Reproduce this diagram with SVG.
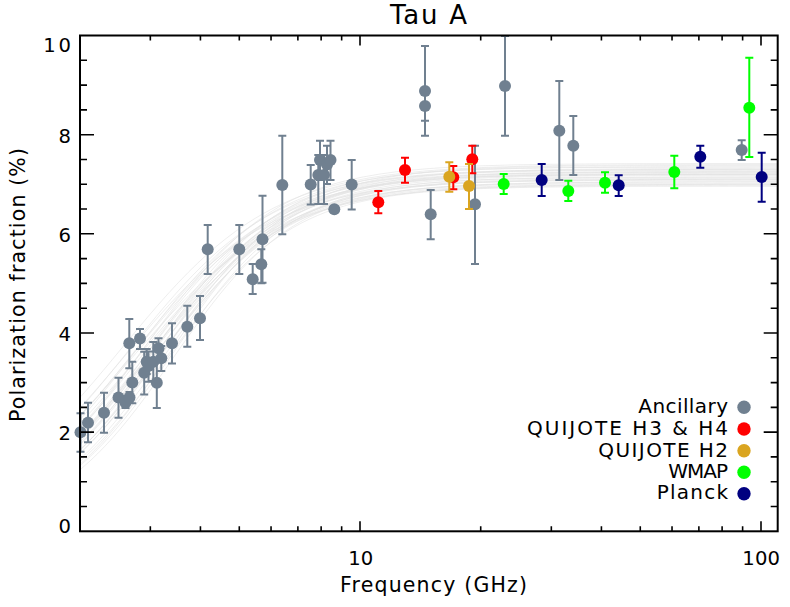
<svg xmlns="http://www.w3.org/2000/svg" width="790" height="607" viewBox="0 0 790 607">
<style>
text{font-family:"DejaVu Sans","Liberation Sans",sans-serif;fill:#000}
.tl{font-size:19.6px;text-anchor:end}
.xl{font-size:19.6px;text-anchor:middle}
.lg{font-size:20px;text-anchor:end}
.eb{fill:none;stroke-width:2}
.anc{stroke:#708090;fill:#708090}
.red{stroke:#ff0000;fill:#ff0000}
.gold{stroke:#daa520;fill:#daa520}
.grn{stroke:#00ff00;fill:#00ff00}
.nav{stroke:#000080;fill:#000080}
.dot circle{stroke:none}
</style>
<defs>
<clipPath id="plotclip"><rect x="80" y="35.5" width="697.7" height="495.8"/></clipPath>
<path id="sig" fill="none" stroke="#e2e2e2" stroke-width="0.6" vector-effect="non-scaling-stroke" d="M-3 0.04743C-2.8333 0.05496 -2.6667 0.06418 -2.5 0.07586C-2.3333 0.08754 -2.1667 0.10170 -2 0.11920C-1.8333 0.13670 -1.6667 0.15757 -1.5 0.18243C-1.3333 0.20729 -1.1667 0.23617 -1 0.26894C-0.8333 0.30171 -0.6667 0.33837 -0.5 0.37754C-0.3333 0.41671 -0.1667 0.45833 0 0.5C0.1667 0.54167 0.3333 0.58329 0.5 0.62246C0.6667 0.66163 0.8333 0.69829 1 0.73106C1.1667 0.76383 1.3333 0.79271 1.5 0.81757C1.6667 0.84243 1.8333 0.86330 2 0.88080C2.1667 0.89830 2.3333 0.91246 2.5 0.92414C2.6667 0.93582 2.8333 0.94504 3 0.95257C3.3333 0.96763 3.6667 0.97612 4 0.98201C4.3333 0.98790 4.6667 0.99109 5 0.99331C5.3333 0.99553 5.6667 0.99671 6 0.99753C6.6667 0.99918 7.3333 0.99944 8 0.99966L12 1"/>
</defs>
<rect width="790" height="607" fill="#fff"/>
<g id="model-curves" clip-path="url(#plotclip)">
<use href="#sig" transform="matrix(75.72 0 0 -366.89 122.02 531.3)"/>
<use href="#sig" transform="matrix(74.11 0 0 -352.02 125.40 531.3)"/>
<use href="#sig" transform="matrix(72.56 0 0 -361.93 128.72 531.3)"/>
<use href="#sig" transform="matrix(75.72 0 0 -347.06 131.98 531.3)"/>
<use href="#sig" transform="matrix(71.08 0 0 -356.98 133.26 531.3)"/>
<use href="#sig" transform="matrix(69.66 0 0 -364.41 137.06 531.3)"/>
<use href="#sig" transform="matrix(72.56 0 0 -349.54 138.31 531.3)"/>
<use href="#sig" transform="matrix(68.29 0 0 -359.46 141.39 531.3)"/>
<use href="#sig" transform="matrix(71.08 0 0 -354.50 143.22 531.3)"/>
<use href="#sig" transform="matrix(66.98 0 0 -367.88 144.42 531.3)"/>
<use href="#sig" transform="matrix(69.66 0 0 -346.07 146.21 531.3)"/>
<use href="#sig" transform="matrix(68.29 0 0 -356.98 147.40 531.3)"/>
<use href="#sig" transform="matrix(65.72 0 0 -361.93 149.16 531.3)"/>
<use href="#sig" transform="matrix(69.66 0 0 -352.02 150.33 531.3)"/>
<use href="#sig" transform="matrix(66.98 0 0 -357.97 151.48 531.3)"/>
<use href="#sig" transform="matrix(68.29 0 0 -349.54 153.20 531.3)"/>
<use href="#sig" transform="matrix(64.50 0 0 -364.41 154.91 531.3)"/>
<use href="#sig" transform="matrix(66.98 0 0 -355.98 156.04 531.3)"/>
<use href="#sig" transform="matrix(65.72 0 0 -347.06 157.71 531.3)"/>
<use href="#sig" transform="matrix(63.33 0 0 -360.94 158.82 531.3)"/>
<use href="#sig" transform="matrix(66.98 0 0 -353.01 160.47 531.3)"/>
<use href="#sig" transform="matrix(64.50 0 0 -358.96 162.65 531.3)"/>
<use href="#sig" transform="matrix(62.20 0 0 -351.03 164.26 531.3)"/>
<use href="#sig" transform="matrix(65.72 0 0 -365.90 165.86 531.3)"/>
<use href="#sig" transform="matrix(63.33 0 0 -345.08 166.92 531.3)"/>
<use href="#sig" transform="matrix(61.11 0 0 -356.98 169.54 531.3)"/>
<use href="#sig" transform="matrix(62.20 0 0 -354.00 172.12 531.3)"/>
<use href="#sig" transform="matrix(60.89 0 0 -348.05 173.65 531.3)"/>
<use href="#sig" transform="matrix(74.11 0 0 -359.95 135.17 531.3)"/>
<use href="#sig" transform="matrix(71.08 0 0 -362.93 153.20 531.3)"/>
</g>
<g id="ancillary" class="anc">
<path class="eb" d="M80.5 413.3V451.7M76.5 413.3h8M76.5 451.7h8M88 402.7V442.3M84 402.7h8M84 442.3h8M104 392.7V432.7M100 392.7h8M100 432.7h8M118.5 377.7V417.7M114.5 377.7h8M114.5 417.7h8M125.5 397V408M121.5 397h8M121.5 408h8M129.5 392V403M125.5 392h8M125.5 403h8M129.3 319V368.3M125.3 319h8M125.3 368.3h8M132.3 361.7V403.3M128.3 361.7h8M128.3 403.3h8M140 329V349M136 329h8M136 349h8M144.2 351.7V394.5M140.2 351.7h8M140.2 394.5h8M146.7 349V374M142.7 349h8M142.7 374h8M148.5 351.5V381.7M144.5 351.5h8M144.5 381.7h8M153.3 342V381M149.3 342h8M149.3 381h8M156.8 358V408M152.8 358h8M152.8 408h8M158.5 338.3V358.3M154.5 338.3h8M154.5 358.3h8M161.3 346V371M157.3 346h8M157.3 371h8M172 323.3V363.5M168 323.3h8M168 363.5h8M187.3 305.7V346.7M183.3 305.7h8M183.3 346.7h8M200 296V340M196 296h8M196 340h8M207.7 225V274M203.7 225h8M203.7 274h8M239.3 225V274M235.3 225h8M235.3 274h8M252.7 264V294M248.7 264h8M248.7 294h8M261.3 249.3V283.3M257.3 249.3h8M257.3 283.3h8M262.5 195.7V282.7M258.5 195.7h8M258.5 282.7h8M282.3 135.7V234.3M278.3 135.7h8M278.3 234.3h8M310.7 165V204.5M306.7 165h8M306.7 204.5h8M318.3 155V204M314.3 155h8M314.3 204h8M320 140.7V180M316 140.7h8M316 180h8M324 155V204M320 155h8M320 204h8M327 145.7V184M323 145.7h8M323 184h8M330.5 140.7V180M326.5 140.7h8M326.5 180h8M334.3 207V211.5M351.7 160V209.5M347.7 160h8M347.7 209.5h8M425 46V135.7M421 46h8M421 120.7h8M421 135.7h8M430.7 190V239.3M426.7 190h8M426.7 239.3h8M475 145.7V264M471 145.7h8M471 264h8M505 36V135.7M501 36h8M501 135.7h8M559.3 81V180M555.3 81h8M555.3 180h8M573.3 116V175M569.3 116h8M569.3 175h8M741.7 140.3V160M737.7 140.3h8M737.7 160h8"/>
<g class="dot">
<circle cx="80.5" cy="432.3" r="6"/><circle cx="88" cy="422.7" r="6"/><circle cx="104" cy="412.7" r="6"/><circle cx="118.5" cy="397.5" r="6"/><circle cx="125.5" cy="402.5" r="6"/><circle cx="129.5" cy="397.5" r="6"/><circle cx="129.3" cy="343.3" r="6"/><circle cx="132.3" cy="382.5" r="6"/><circle cx="140" cy="338.5" r="6"/><circle cx="144.2" cy="372.7" r="6"/><circle cx="146.7" cy="361.7" r="6"/><circle cx="148.5" cy="366" r="6"/><circle cx="153.3" cy="361.7" r="6"/><circle cx="156.8" cy="382.7" r="6"/><circle cx="158.5" cy="348.3" r="6"/><circle cx="161.3" cy="358.3" r="6"/><circle cx="172" cy="343.3" r="6"/><circle cx="187.3" cy="326.7" r="6"/><circle cx="200" cy="318.3" r="6"/><circle cx="207.7" cy="249.3" r="6"/><circle cx="239.3" cy="249.3" r="6"/><circle cx="252.7" cy="279.3" r="6"/><circle cx="261.3" cy="264.3" r="6"/><circle cx="262.5" cy="239.3" r="6"/><circle cx="282.3" cy="185" r="6"/><circle cx="310.7" cy="184.5" r="6"/><circle cx="318.3" cy="175" r="6"/><circle cx="320" cy="160" r="6"/><circle cx="324" cy="175" r="6"/><circle cx="327" cy="164.5" r="6"/><circle cx="330.5" cy="160" r="6"/><circle cx="334.3" cy="209.3" r="6"/><circle cx="351.7" cy="184.5" r="6"/><circle cx="425" cy="91" r="6"/><circle cx="425" cy="106" r="6"/><circle cx="430.7" cy="214.3" r="6"/><circle cx="475" cy="204.3" r="6"/><circle cx="505" cy="86" r="6"/><circle cx="559.3" cy="130.7" r="6"/><circle cx="573.3" cy="145.7" r="6"/><circle cx="741.7" cy="150" r="6"/>
</g>
</g>
<g id="quijote-h3-h4" class="red">
<path class="eb" d="M378.3 191V213.3M374.3 191h8M374.3 213.3h8M405 157.7V182.7M401 157.7h8M401 182.7h8M453.3 166V189.3M449.3 166h8M449.3 189.3h8M472.3 145.7V173.3M468.3 145.7h8M468.3 173.3h8"/>
<g class="dot"><circle cx="378.3" cy="202.3" r="6"/><circle cx="405" cy="170" r="6"/><circle cx="453.3" cy="177.3" r="6"/><circle cx="472.3" cy="159.3" r="6"/></g>
</g>
<g id="quijote-h2" class="gold">
<path class="eb" d="M449.3 162.3V191.7M445.3 162.3h8M445.3 191.7h8M469 164V209M465 164h8M465 209h8"/>
<g class="dot"><circle cx="449.3" cy="176.7" r="6"/><circle cx="469" cy="186" r="6"/></g>
</g>
<g id="wmap" class="grn">
<path class="eb" d="M503.7 174V194M499.7 174h8M499.7 194h8M568.3 180.7V201M564.3 180.7h8M564.3 201h8M605 172.3V192.7M601 172.3h8M601 192.7h8M674.3 155.7V188.3M670.3 155.7h8M670.3 188.3h8M749.3 57.7V157M745.3 57.7h8M745.3 157h8"/>
<g class="dot"><circle cx="503.7" cy="184" r="6"/><circle cx="568.3" cy="191" r="6"/><circle cx="605" cy="182.7" r="6"/><circle cx="674.3" cy="172" r="6"/><circle cx="749.3" cy="107.7" r="6"/></g>
</g>
<g id="planck" class="nav">
<path class="eb" d="M541.7 164V196M537.7 164h8M537.7 196h8M618.7 175.3V196M614.7 175.3h8M614.7 196h8M700.3 145.7V167.7M696.3 145.7h8M696.3 167.7h8M761.7 152.7V201.7M757.7 152.7h8M757.7 201.7h8"/>
<g class="dot"><circle cx="541.7" cy="180" r="6"/><circle cx="618.7" cy="185.3" r="6"/><circle cx="700.3" cy="156.7" r="6"/><circle cx="761.7" cy="177" r="6"/></g>
</g>
<g id="axes">
<rect x="80" y="35.5" width="697.7" height="495.8" fill="none" stroke="#000" stroke-width="2"/>
<path fill="none" stroke="#000" stroke-width="1.6" d="M80 432.1h14M80 333h14M80 233.8h14M80 134.7h14M80 506.5h7M80 481.7h7M80 456.9h7M80 407.4h7M80 382.6h7M80 357.8h7M80 308.2h7M80 283.4h7M80 258.6h7M80 209h7M80 184.2h7M80 159.5h7M80 109.9h7M80 85.1h7M80 60.3h7M777.7 432.1h-14M777.7 333h-14M777.7 233.8h-14M777.7 134.7h-14M777.7 506.5h-7M777.7 481.7h-7M777.7 456.9h-7M777.7 407.4h-7M777.7 382.6h-7M777.7 357.8h-7M777.7 308.2h-7M777.7 283.4h-7M777.7 258.6h-7M777.7 209h-7M777.7 184.2h-7M777.7 159.5h-7M777.7 109.9h-7M777.7 85.1h-7M777.7 60.3h-7M360 531.3v-10M761 531.3v-10M150.33 531.3v-5M200.43 531.3v-5M239.29 531.3v-5M271.04 531.3v-5M297.88 531.3v-5M321.14 531.3v-5M341.65 531.3v-5M480.71 531.3v-5M551.33 531.3v-5M601.42 531.3v-5M640.27 531.3v-5M672.03 531.3v-5M698.88 531.3v-5M722.11 531.3v-5M742.62 531.3v-5M360 35.5v10M761 35.5v10M150.33 35.5v5M200.43 35.5v5M239.29 35.5v5M271.04 35.5v5M297.88 35.5v5M321.14 35.5v5M341.65 35.5v5M480.71 35.5v5M551.33 35.5v5M601.42 35.5v5M640.27 35.5v5M672.03 35.5v5M698.88 35.5v5M722.11 35.5v5M742.62 35.5v5"/>
<text class="tl" x="71" y="51.7" textLength="27.7">10</text>
<text class="tl" x="71" y="143.3">8</text>
<text class="tl" x="71" y="241.7">6</text>
<text class="tl" x="71" y="340.7">4</text>
<text class="tl" x="71" y="440">2</text>
<text class="tl" x="71" y="533.3">0</text>
<text class="xl" x="360.8" y="565" textLength="25">10</text>
<text class="xl" x="761.2" y="565" textLength="37.7">100</text>
<text x="433.5" y="591.5" font-size="20.5" text-anchor="middle" textLength="187">Frequency (GHz)</text>
<text x="25" y="285" font-size="20.5" text-anchor="middle" textLength="274" transform="rotate(-90 25 285)">Polarization fraction (%)</text>
<text x="428.5" y="24" font-size="26" text-anchor="middle" textLength="77">Tau A</text>
</g>
<g id="legend">
<text class="lg" x="728" y="413.3" textLength="89.7">Ancillary</text>
<text class="lg" x="728" y="435" textLength="201">QUIJOTE H3 &amp; H4</text>
<text class="lg" x="728" y="456.7" textLength="129.7">QUIJOTE H2</text>
<text class="lg" x="728" y="478.3" textLength="59.7">WMAP</text>
<text class="lg" x="728" y="499.3" textLength="71.3">Planck</text>
<circle cx="744" cy="407.3" r="6.7" fill="#708090"/>
<circle cx="744" cy="429" r="6.7" fill="#ff0000"/>
<circle cx="744" cy="450.7" r="6.7" fill="#daa520"/>
<circle cx="744" cy="472.3" r="6.7" fill="#00ff00"/>
<circle cx="744" cy="493.7" r="6.7" fill="#000080"/>
</g>
</svg>
